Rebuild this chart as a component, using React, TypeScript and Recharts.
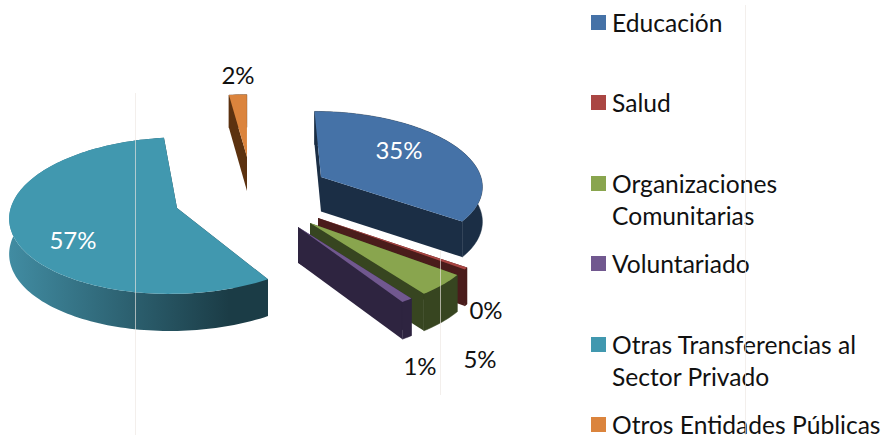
import React from "react";
import { PieChart, Pie, Legend } from "recharts";

const categories = [
  "Educación",
  "Salud",
  "Organizaciones Comunitarias",
  "Voluntariado",
  "Otras Transferencias al Sector Privado",
  "Otros Entidades Públicas",
];
const shares = [35, 0.4, 4.6, 1, 57, 2];
const topColors = ["#4572a7", "#aa4643", "#89a54e", "#71588f", "#4198af", "#db843d"];
const wallFrom = ["#1b2e45", "#4a1c1b", "#374520", "#2e2440", "#418ca2", "#5c3210"];
const wallTo = ["#1b2e45", "#4a1c1b", "#374520", "#2e2440", "#1b3c46", "#5c3210"];
const sideColors = ["#1b2e45", "#4a1c1b", "#374520", "#2e2440", "#1b3c46", "#5c3210"];

// explosion of each slice, and label placement, relative to the pie centre
const explode = [[76, -20], [73, 21], [65, 26], [53, 30], [-68, 11], [2, -40]];
const labelAt = [[154, -48], [241, 112], [235, 161], [175, 168], [-172, 42], [-7, -123]];
const labelFill = ["#ffffff", "#111111", "#111111", "#111111", "#ffffff", "#111111"];
const hazeLines = [
  { x: 135, y1: 93, y2: 435 },
  { x: 440, y1: 250, y2: 395 },
  { x: 745, y1: 5, y2: 435 },
];

const FONT = "Lato, Carlito, sans-serif";
const TILT = 0.46;
const PERSPECTIVE = 0.0956;
const DEPTH = 35;

const table = categories.map((name, i) => ({ name, value: shares[i], fill: topColors[i], idx: i }));

const Slice3D = (props: any) => {
  const { cx, cy, outerRadius: R, startAngle, endAngle, payload } = props;
  const idx = payload?.idx ?? props.idx;
  const [dx, dy] = explode[idx];
  const Y0 = -dy / (TILT + (PERSPECTIVE * dy) / R);
  const X0 = dx * (1 + (PERSPECTIVE * Y0) / R);
  const project = (X: number, Y: number, drop = 0) => {
    const s = 1 / (1 + (PERSPECTIVE * Y) / R);
    return [cx + X * s, cy - TILT * Y * s + drop * Math.sqrt(s)];
  };
  const onRim = (deg: number, drop = 0) => {
    const a = (deg * Math.PI) / 180;
    return project(X0 + R * Math.cos(a), Y0 + R * Math.sin(a), drop);
  };
  const lo = Math.min(startAngle, endAngle);
  const hi = Math.max(startAngle, endAngle);
  const steps = Math.max(2, Math.ceil((hi - lo) / 1.5));
  const degs = Array.from({ length: steps + 1 }, (_, i) => hi - ((hi - lo) * i) / steps);
  const fmt = (pts: number[][]) =>
    "M" + pts.map((p) => `${p[0].toFixed(2)},${p[1].toFixed(2)}`).join("L") + "Z";
  const apex = project(X0, Y0);
  const apexLow = project(X0, Y0, DEPTH);
  const rim = degs.map((d) => onRim(d));
  const rimLow = degs.map((d) => onRim(d, DEPTH));
  const gid = `wall-${idx}`;
  const xs = rim.map((p) => p[0]);
  return (
    <g>
      <defs>
        <linearGradient id={gid} gradientUnits="userSpaceOnUse" x1={Math.min(...xs)} x2={Math.max(...xs)} y1={0} y2={0}>
          <stop offset="0" stopColor={wallFrom[idx]} />
          <stop offset="0.85" stopColor={wallTo[idx]} />
          <stop offset="1" stopColor={wallTo[idx]} />
        </linearGradient>
      </defs>
      <path d={fmt([apex, rim[0], rimLow[0], apexLow])} fill={sideColors[idx]} />
      <path d={fmt([apex, rim[rim.length - 1], rimLow[rimLow.length - 1], apexLow])} fill={sideColors[idx]} />
      <path d={fmt([...rim, ...rimLow.slice().reverse()])} fill={`url(#${gid})`} stroke={wallTo[idx]} strokeWidth={idx === 4 ? 0 : 0.5} />
      <path d={fmt([apex, ...rim])} fill={topColors[idx]} />
    </g>
  );
};

const renderLabel = (p: any) => {
  const i = p.payload?.idx ?? p.idx ?? p.index;
  const [dx, dy] = labelAt[i];
  return (
    <text
      x={p.cx + dx}
      y={p.cy + dy}
      textAnchor="middle"
      dominantBaseline="central"
      fill={labelFill[i]}
      fontFamily={FONT}
      fontSize={24}
    >
      {`${Math.round(p.percent * 100)}%`}
    </text>
  );
};

const renderLegend = (props: any) => (
  <div style={{ position: "relative", width: 291, height: 438, fontFamily: FONT, fontSize: 24.6, lineHeight: "32px", color: "#111" }}>
    {(props.payload || []).map((item: any, i: number) => (
      <div key={item.value} style={{ position: "absolute", left: 0, top: 7 + i * 80.4, width: 291 }}>
        <span style={{ position: "absolute", left: 0, top: 8, width: 15, height: 15, background: item.color }} />
        <div style={{ marginLeft: 21, width: 270 }}>{item.value}</div>
      </div>
    ))}
  </div>
);

export default function App() {
  return (
    <div style={{ position: "absolute", left: 0, top: 0, width: 882, height: 438, background: "#fff" }}>
      <PieChart width={882} height={438} margin={{ top: 0, right: 0, bottom: 0, left: 0 }}>
        <Pie
          data={table}
          dataKey="value"
          nameKey="name"
          cx={245}
          cy={197}
          innerRadius={0}
          outerRadius={164}
          startAngle={90}
          endAngle={-270}
          stroke="none"
          isAnimationActive={false}
          labelLine={false}
          label={renderLabel}
          shape={Slice3D}
          inactiveShape={Slice3D}
        />
        <Legend
          content={renderLegend}
          itemSorter={null}
          layout="vertical"
          wrapperStyle={{ position: "absolute", left: 591, top: 0, width: 291, height: 438 }}
        />
      </PieChart>
      {hazeLines.map((l) => (
        <div
          key={l.x}
          style={{
            position: "absolute",
            left: l.x,
            top: l.y1,
            width: 1,
            height: l.y2 - l.y1,
            background: "rgba(236,230,226,0.65)",
            pointerEvents: "none",
          }}
        />
      ))}
    </div>
  );
}
